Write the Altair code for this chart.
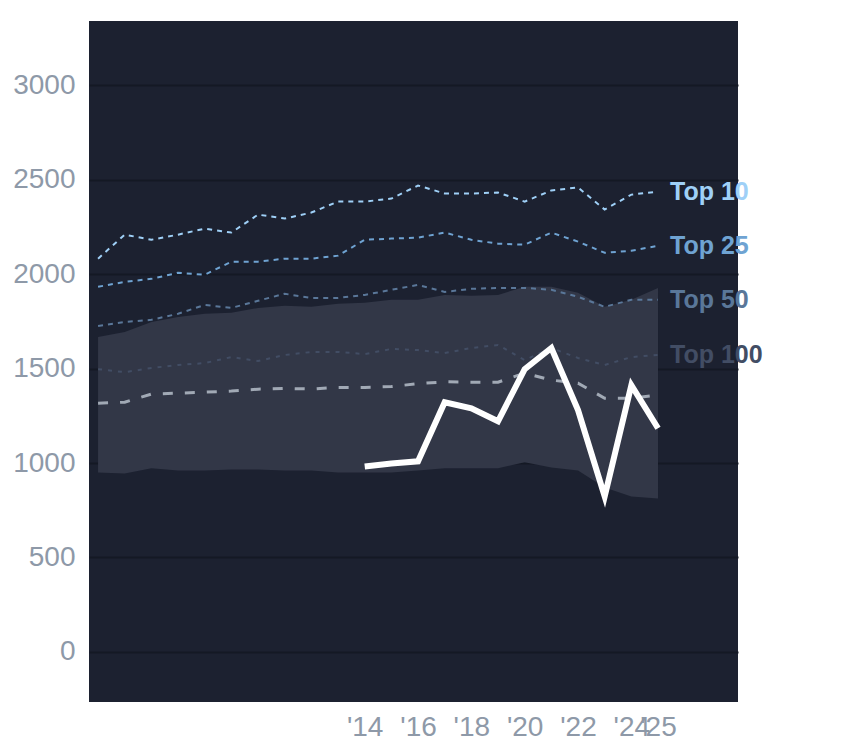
import altair as alt
import pandas as pd

years = list(range(2004, 2026))
top10 = [2082, 2209, 2182, 2209, 2241, 2220, 2315, 2294, 2326, 2384, 2384, 2400, 2469, 2427, 2427, 2432, 2384, 2443, 2459, 2342, 2421, 2437]
top25 = [1933, 1959, 1975, 2007, 1997, 2066, 2066, 2082, 2082, 2098, 2182, 2188, 2193, 2220, 2182, 2161, 2156, 2220, 2172, 2113, 2124, 2150]
top50 = [1726, 1747, 1758, 1790, 1837, 1821, 1859, 1896, 1874, 1874, 1890, 1917, 1943, 1906, 1922, 1927, 1927, 1917, 1880, 1827, 1864, 1864]
top100 = [1497, 1481, 1503, 1519, 1529, 1561, 1540, 1572, 1588, 1588, 1577, 1604, 1598, 1582, 1609, 1625, 1545, 1609, 1556, 1519, 1561, 1572]
median = [1317, 1322, 1365, 1370, 1375, 1381, 1391, 1395, 1392, 1400, 1400, 1405, 1420, 1430, 1428, 1428, 1476, 1439, 1423, 1343, 1343, 1360]
band_hi = [1667, 1694, 1747, 1773, 1790, 1795, 1821, 1832, 1827, 1843, 1848, 1864, 1864, 1890, 1885, 1890, 1933, 1933, 1901, 1827, 1864, 1927]
band_lo = [950, 945, 972, 961, 961, 966, 966, 961, 961, 950, 950, 950, 961, 972, 972, 972, 1004, 977, 961, 871, 823, 812]
player_years = list(range(2014, 2026))
player = [982, 998, 1009, 1322, 1290, 1221, 1497, 1609, 1280, 823, 1412, 1184]

series_names = ["Top 10", "Top 25", "Top 50", "Top 100"]
series_vals = [top10, top25, top50, top100]
series_colors = ["#9fd0f7", "#6fa3d2", "#5a7799", "#424d64"]
series_dash = [[5, 5], [5, 5], [5, 5], [4, 6]]

x_ticks = [2014, 2016, 2018, 2020, 2022, 2024, 2025]
y_ticks = [0, 500, 1000, 1500, 2000, 2500, 3000]

FONT = "Liberation Sans"
xs = alt.Scale(domain=[2003.66, 2028.0], nice=False, zero=False)
ys = alt.Scale(domain=[-265, 3340], nice=False, zero=False)

xenc = alt.X("year:Q", scale=xs, axis=alt.Axis(
    values=x_ticks, grid=False, domain=False, ticks=False, title=None,
    labelExpr="\"'\" + substring(toString(datum.value), 2)",
    labelFontSize=28, labelColor="#8e99a8", labelFont=FONT, labelPadding=11,
    labelOverlap=False, labelFlush=False))
yaxis = alt.Axis(values=y_ticks, grid=True, domain=False, ticks=False, title=None, format="d",
                 labelFontSize=28, labelColor="#8e99a8", labelFont=FONT, labelPadding=14,
                 gridColor="#141924", gridWidth=2)

band_df = pd.DataFrame({"year": years, "lo": band_lo, "hi": band_hi})
band = alt.Chart(band_df).mark_area(color="#323747", opacity=1, interpolate="linear").encode(
    x=xenc,
    y=alt.Y("lo:Q", scale=ys, axis=yaxis),
    y2="hi:Q",
)

layers = [band]

med_df = pd.DataFrame({"year": years, "v": median})
layers.append(alt.Chart(med_df).mark_line(color="#a1a9b5", strokeWidth=3, strokeDash=[10, 12]).encode(
    x=alt.X("year:Q", scale=xs), y=alt.Y("v:Q", scale=ys)))

for name, vals, col, dash in zip(series_names, series_vals, series_colors, series_dash):
    df = pd.DataFrame({"year": years, "v": vals, "s": name})
    layers.append(alt.Chart(df).mark_line(color=col, strokeWidth=2, strokeDash=dash).encode(
        x=alt.X("year:Q", scale=xs), y=alt.Y("v:Q", scale=ys)))

lab_df = pd.DataFrame({"year": [years[-1]] * 4, "v": [v[-1] for v in series_vals], "s": series_names})
layers.append(alt.Chart(lab_df).mark_text(align="left", baseline="middle", dx=12, fontSize=25,
                                          fontWeight="bold", font=FONT).encode(
    x=alt.X("year:Q", scale=xs), y=alt.Y("v:Q", scale=ys), text="s:N",
    color=alt.Color("s:N", scale=alt.Scale(domain=series_names, range=series_colors), legend=None)))

pl_df = pd.DataFrame({"year": player_years, "v": player})
layers.append(alt.Chart(pl_df).mark_line(color="#ffffff", strokeWidth=6, strokeJoin="miter").encode(
    x=alt.X("year:Q", scale=xs), y=alt.Y("v:Q", scale=ys)))

chart = alt.layer(*layers).properties(
    width=649, height=681,
    padding={"left": 4, "top": 13, "right": 5, "bottom": 5},
    background="#ffffff",
).configure_view(fill="#1c2130", stroke=None)

chart.save("out.html", embed_options={"renderer": "svg", "actions": False})
